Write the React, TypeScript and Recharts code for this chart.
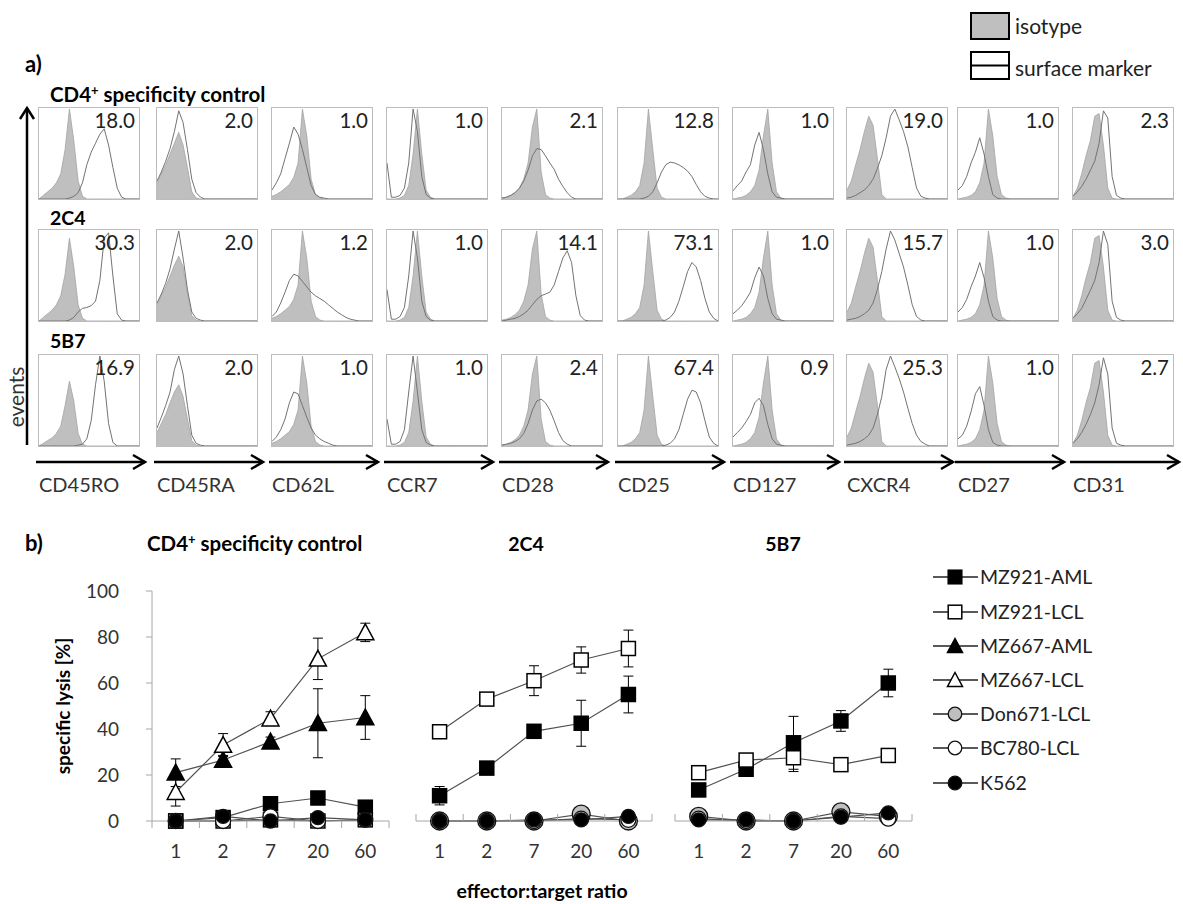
import React from "react";
import { Area, ComposedChart, ErrorBar, Line, LineChart, XAxis, YAxis } from "recharts";

const FONT = 'Lato, "Open Sans", sans-serif';

// ---------- a) surface marker histograms ----------
const MARKERS = ["CD45RO", "CD45RA", "CD62L", "CCR7", "CD28", "CD25", "CD127", "CXCR4", "CD27", "CD31"];
const ROW_TITLES = ["CD4", "2C4", "5B7"];

// surface marker / isotype ratios printed in each box
const MFI_CTRL = [18.0, 2.0, 1.0, 1.0, 2.1, 12.8, 1.0, 19.0, 1.0, 2.3];
const MFI_2C4 = [30.3, 2.0, 1.2, 1.0, 14.1, 73.1, 1.0, 15.7, 1.0, 3.0];
const MFI_5B7 = [16.9, 2.0, 1.0, 1.0, 2.4, 67.4, 0.9, 25.3, 1.0, 2.7];

// histogram heights (% of max) over 24 fluorescence bins, rows: control, 2C4, 5B7
const CD45RO_ISO = [
  [0, 4, 8, 12, 18, 28, 55, 100, 65, 20, 3, 0, 0, 0, 0, 0, 0, 0, 0, 0, 0, 0, 0, 0],
  [0, 4, 8, 12, 18, 28, 52, 92, 60, 18, 3, 0, 0, 0, 0, 0, 0, 0, 0, 0, 0, 0, 0, 0],
  [0, 3, 6, 9, 14, 22, 45, 72, 50, 14, 2, 0, 0, 0, 0, 0, 0, 0, 0, 0, 0, 0, 0, 0],
];
const CD45RO_SURF = [
  [0, 0, 0, 0, 0, 0, 0, 1, 3, 7, 18, 38, 52, 62, 72, 78, 60, 35, 12, 2, 0, 0, 0, 0],
  [0, 0, 0, 0, 0, 0, 0, 1, 4, 10, 14, 15, 17, 22, 45, 92, 98, 50, 8, 1, 0, 0, 0, 0],
  [0, 0, 0, 0, 0, 0, 0, 0, 0, 1, 2, 8, 28, 68, 100, 72, 25, 4, 0, 0, 0, 0, 0, 0],
];
const CD45RA_ISO = [
  [18, 28, 38, 50, 62, 74, 60, 35, 8, 1, 0, 0, 0, 0, 0, 0, 0, 0, 0, 0, 0, 0, 0, 0],
  [18, 28, 38, 50, 62, 72, 60, 30, 6, 1, 0, 0, 0, 0, 0, 0, 0, 0, 0, 0, 0, 0, 0, 0],
  [15, 25, 35, 48, 60, 68, 55, 30, 6, 1, 0, 0, 0, 0, 0, 0, 0, 0, 0, 0, 0, 0, 0, 0],
];
const CD45RA_SURF = [
  [20, 30, 42, 56, 75, 98, 85, 55, 22, 7, 2, 0, 0, 0, 0, 0, 0, 0, 0, 0, 0, 0, 0, 0],
  [20, 30, 42, 58, 80, 100, 70, 35, 10, 3, 1, 0, 0, 0, 0, 0, 0, 0, 0, 0, 0, 0, 0, 0],
  [20, 32, 45, 60, 85, 100, 80, 45, 12, 3, 1, 0, 0, 0, 0, 0, 0, 0, 0, 0, 0, 0, 0, 0],
];
const CD62L_ISO = [3, 5, 8, 12, 16, 24, 40, 100, 70, 22, 5, 1, 0, 0, 0, 0, 0, 0, 0, 0, 0, 0, 0, 0];
const CD62L_SURF = [
  [10, 18, 28, 45, 62, 80, 72, 55, 35, 15, 5, 2, 1, 0, 0, 0, 0, 0, 0, 0, 0, 0, 0, 0],
  [5, 10, 20, 32, 45, 52, 50, 44, 38, 32, 28, 25, 22, 18, 14, 10, 7, 4, 2, 1, 0, 0, 0, 0],
  [5, 10, 18, 30, 48, 60, 58, 45, 32, 20, 12, 8, 5, 3, 1, 0, 0, 0, 0, 0, 0, 0, 0, 0],
];
const CCR7_ISO = [0, 0, 0, 1, 4, 15, 50, 100, 50, 10, 2, 0, 0, 0, 0, 0, 0, 0, 0, 0, 0, 0, 0, 0];
const CCR7_SURF = [
  [40, 2, 2, 4, 12, 40, 100, 75, 25, 5, 1, 0, 0, 0, 0, 0, 0, 0, 0, 0, 0, 0, 0, 0],
  [35, 2, 2, 5, 15, 50, 100, 70, 22, 5, 1, 0, 0, 0, 0, 0, 0, 0, 0, 0, 0, 0, 0, 0],
  [30, 2, 2, 5, 18, 60, 100, 60, 18, 4, 1, 0, 0, 0, 0, 0, 0, 0, 0, 0, 0, 0, 0, 0],
];
const CD28_ISO = [1, 2, 4, 7, 12, 22, 40, 80, 100, 30, 5, 1, 0, 0, 0, 0, 0, 0, 0, 0, 0, 0, 0, 0];
const CD28_SURF = [
  [1, 2, 4, 7, 12, 20, 32, 48, 56, 55, 48, 40, 33, 22, 14, 7, 2, 0, 0, 0, 0, 0, 0, 0],
  [0, 1, 2, 3, 5, 8, 12, 18, 24, 28, 30, 32, 40, 55, 70, 78, 65, 28, 6, 1, 0, 0, 0, 0],
  [1, 2, 3, 5, 8, 14, 25, 40, 50, 52, 48, 40, 28, 15, 6, 2, 0, 0, 0, 0, 0, 0, 0, 0],
];
const CD25_ISO = [0, 0, 2, 4, 8, 15, 40, 100, 55, 12, 2, 0, 0, 0, 0, 0, 0, 0, 0, 0, 0, 0, 0, 0];
const CD25_SURF = [
  [0, 0, 0, 0, 0, 0, 1, 3, 8, 18, 30, 38, 41, 40, 38, 35, 31, 25, 16, 8, 3, 1, 0, 0],
  [0, 0, 0, 0, 0, 0, 0, 0, 0, 0, 0, 1, 4, 10, 22, 38, 55, 65, 60, 45, 25, 10, 3, 0],
  [0, 0, 0, 0, 0, 0, 0, 0, 0, 0, 0, 1, 3, 8, 18, 35, 52, 62, 60, 48, 28, 10, 3, 0],
];
const CD127_ISO = [0, 1, 2, 4, 8, 15, 32, 70, 100, 40, 8, 1, 0, 0, 0, 0, 0, 0, 0, 0, 0, 0, 0, 0];
const CD127_SURF = [
  [9, 15, 20, 30, 38, 60, 74, 55, 28, 8, 2, 1, 0, 0, 0, 0, 0, 0, 0, 0, 0, 0, 0, 0],
  [8, 12, 17, 24, 32, 48, 60, 50, 25, 8, 2, 1, 0, 0, 0, 0, 0, 0, 0, 0, 0, 0, 0, 0],
  [10, 15, 20, 27, 35, 48, 53, 45, 24, 8, 2, 1, 0, 0, 0, 0, 0, 0, 0, 0, 0, 0, 0, 0],
];
const CXCR4_ISO = [10, 20, 38, 55, 75, 92, 82, 45, 5, 0, 0, 0, 0, 0, 0, 0, 0, 0, 0, 0, 0, 0, 0, 0];
const CXCR4_SURF = [
  [1, 2, 4, 7, 10, 15, 22, 34, 48, 68, 92, 100, 88, 75, 58, 35, 12, 3, 1, 0, 0, 0, 0, 0],
  [1, 2, 3, 5, 8, 12, 20, 35, 55, 80, 100, 90, 75, 60, 40, 18, 5, 1, 0, 0, 0, 0, 0, 0],
  [1, 2, 3, 5, 8, 12, 20, 35, 55, 85, 100, 88, 75, 60, 42, 25, 12, 5, 2, 0, 0, 0, 0, 0],
];
const CD27_ISO = [0, 1, 2, 4, 8, 18, 40, 100, 70, 25, 5, 1, 0, 0, 0, 0, 0, 0, 0, 0, 0, 0, 0, 0];
const CD27_SURF = [
  [10, 15, 25, 40, 52, 68, 50, 25, 5, 1, 0, 0, 0, 0, 0, 0, 0, 0, 0, 0, 0, 0, 0, 0],
  [10, 15, 24, 38, 50, 65, 48, 22, 5, 1, 0, 0, 0, 0, 0, 0, 0, 0, 0, 0, 0, 0, 0, 0],
  [8, 12, 22, 38, 58, 66, 45, 18, 4, 1, 0, 0, 0, 0, 0, 0, 0, 0, 0, 0, 0, 0, 0, 0],
];
const CD31_ISO = [3, 12, 28, 48, 65, 92, 95, 60, 12, 1, 0, 0, 0, 0, 0, 0, 0, 0, 0, 0, 0, 0, 0, 0];
const CD31_SURF = [
  [3, 8, 14, 22, 32, 42, 62, 98, 90, 25, 4, 1, 0, 0, 0, 0, 0, 0, 0, 0, 0, 0, 0, 0],
  [3, 8, 14, 24, 34, 45, 65, 100, 85, 22, 4, 1, 0, 0, 0, 0, 0, 0, 0, 0, 0, 0, 0, 0],
  [3, 8, 15, 24, 35, 48, 68, 98, 80, 20, 3, 1, 0, 0, 0, 0, 0, 0, 0, 0, 0, 0, 0, 0],
];

// ---------- b) cytotoxicity ----------
const RATIOS = ["1", "2", "7", "20", "60"];

const CTRL_MZ921_AML = [0, 1.5, 7.5, 10, 6];
const CTRL_MZ921_LCL = [0, 0, 0.5, 0, 0.5];
const CTRL_MZ667_AML = [21, 26.5, 34.5, 42.5, 45];
const CTRL_MZ667_AML_SD = [6, 2, 2, 15, 9.5];
const CTRL_MZ667_LCL = [12.5, 33, 44.5, 70.5, 82];
const CTRL_MZ667_LCL_SD = [6, 5, 3, 9, 4];
const CTRL_BC780 = [0, 0, 2, 0, 0.5];
const CTRL_K562 = [0, 2, 0, 1.5, 0.5];

const C2C4_MZ921_AML = [11, 23, 39, 42.5, 55];
const C2C4_MZ921_AML_SD = [4, 0, 1.5, 10, 8];
const C2C4_MZ921_LCL = [38.8, 53, 61, 70, 75];
const C2C4_MZ921_LCL_SD = [0, 0, 6.5, 5.7, 8];
const C2C4_DON671 = [0, 0, 0, 3, 0];
const C2C4_BC780 = [0, 0, 0, 1, 0.5];
const C2C4_K562 = [0, 0, 0.5, 0.5, 2];

const C5B7_MZ921_AML = [13.5, 22.5, 34, 43.5, 60];
const C5B7_MZ921_AML_SD = [0, 0, 11.5, 4.5, 6];
const C5B7_MZ921_LCL = [21, 26.5, 27.5, 24.5, 28.5];
const C5B7_MZ921_LCL_SD = [0, 0, 6, 0, 0];
const C5B7_DON671 = [2, 0, 0, 4, 2];
const C5B7_BC780 = [1, 0, 0, 2, 1];
const C5B7_K562 = [0.5, 0.5, 0, 1.7, 3.5];

type Shape = "square" | "triangle" | "circle";
const TARGETS: { key: string; name: string; shape: Shape; fill: string; r: number }[] = [
  { key: "mz921aml", name: "MZ921-AML", shape: "square", fill: "#000", r: 7 },
  { key: "mz921lcl", name: "MZ921-LCL", shape: "square", fill: "#fff", r: 7 },
  { key: "mz667aml", name: "MZ667-AML", shape: "triangle", fill: "#000", r: 8.5 },
  { key: "mz667lcl", name: "MZ667-LCL", shape: "triangle", fill: "#fff", r: 8.5 },
  { key: "don671", name: "Don671-LCL", shape: "circle", fill: "#bfbfbf", r: 9 },
  { key: "bc780", name: "BC780-LCL", shape: "circle", fill: "#fff", r: 7.5 },
  { key: "k562", name: "K562", shape: "circle", fill: "#000", r: 7 },
];

type Series = { key: string; values: number[]; sd?: number[] };

const PANEL_CTRL: Series[] = [
  { key: "mz921aml", values: CTRL_MZ921_AML },
  { key: "mz921lcl", values: CTRL_MZ921_LCL },
  { key: "mz667aml", values: CTRL_MZ667_AML, sd: CTRL_MZ667_AML_SD },
  { key: "mz667lcl", values: CTRL_MZ667_LCL, sd: CTRL_MZ667_LCL_SD },
  { key: "bc780", values: CTRL_BC780 },
  { key: "k562", values: CTRL_K562 },
];
const PANEL_2C4: Series[] = [
  { key: "mz921aml", values: C2C4_MZ921_AML, sd: C2C4_MZ921_AML_SD },
  { key: "mz921lcl", values: C2C4_MZ921_LCL, sd: C2C4_MZ921_LCL_SD },
  { key: "don671", values: C2C4_DON671 },
  { key: "bc780", values: C2C4_BC780 },
  { key: "k562", values: C2C4_K562 },
];
const PANEL_5B7: Series[] = [
  { key: "mz921aml", values: C5B7_MZ921_AML, sd: C5B7_MZ921_AML_SD },
  { key: "mz921lcl", values: C5B7_MZ921_LCL, sd: C5B7_MZ921_LCL_SD },
  { key: "don671", values: C5B7_DON671 },
  { key: "bc780", values: C5B7_BC780 },
  { key: "k562", values: C5B7_K562 },
];

// ---------- layout ----------
const BOX_W = 102;
const BOX_H = 93;
const COL_X = [38, 156, 271, 386, 501, 617, 732, 846, 957, 1072];
const ROW_Y = [107, 229, 354];
const AXIS_GREY = "#a6a6a6";
const LINE_GREY = "#505050";
const TICK_POS = [0.5, 1, 1.5, 2, 2.5, 3, 3.5, 4, 4.5, 5, 5.5];

const HISTOGRAMS = [
  { iso: CD45RO_ISO, surf: CD45RO_SURF },
  { iso: CD45RA_ISO, surf: CD45RA_SURF },
  { iso: [CD62L_ISO, CD62L_ISO, CD62L_ISO], surf: CD62L_SURF },
  { iso: [CCR7_ISO, CCR7_ISO, CCR7_ISO], surf: CCR7_SURF },
  { iso: [CD28_ISO, CD28_ISO, CD28_ISO], surf: CD28_SURF },
  { iso: [CD25_ISO, CD25_ISO, CD25_ISO], surf: CD25_SURF },
  { iso: [CD127_ISO, CD127_ISO, CD127_ISO], surf: CD127_SURF },
  { iso: [CXCR4_ISO, CXCR4_ISO, CXCR4_ISO], surf: CXCR4_SURF },
  { iso: [CD27_ISO, CD27_ISO, CD27_ISO], surf: CD27_SURF },
  { iso: [CD31_ISO, CD31_ISO, CD31_ISO], surf: CD31_SURF },
];

function Histogram({ x, y, iso, surf }: { x: number; y: number; iso: number[]; surf: number[] }) {
  const data = iso.map((v, i) => ({ bin: i, iso: v, surf: surf[i] }));
  return (
    <div
      style={{
        position: "absolute",
        left: x,
        top: y,
        width: BOX_W,
        height: BOX_H,
        border: "1px solid #bcbcbc",
        boxSizing: "border-box",
      }}
    >
      <ComposedChart width={BOX_W - 2} height={BOX_H - 2} data={data} margin={{ top: 1, right: 0, bottom: 0, left: 0 }}>
        <XAxis dataKey="bin" type="number" domain={[0, iso.length - 1]} hide />
        <YAxis type="number" domain={[0, 100]} hide />
        <Area
          type="linear"
          dataKey="iso"
          stroke="#a3a3a3"
          strokeWidth={0.8}
          fill="#bfbfbf"
          fillOpacity={1}
          isAnimationActive={false}
        />
        <Line
          type="linear"
          dataKey="surf"
          stroke="#737373"
          strokeWidth={1}
          dot={false}
          activeDot={false}
          isAnimationActive={false}
        />
      </ComposedChart>
    </div>
  );
}

function Marker({ cx, cy, shape, fill, r }: { cx: number; cy: number; shape: Shape; fill: string; r: number }) {
  if (cx == null || cy == null) return null;
  if (shape === "square") {
    return <rect x={cx - r} y={cy - r} width={2 * r} height={2 * r} fill={fill} stroke="#000" strokeWidth={1.5} />;
  }
  if (shape === "triangle") {
    const pts = `${cx},${cy - r} ${cx + r},${cy + r * 0.85} ${cx - r},${cy + r * 0.85}`;
    return <polygon points={pts} fill={fill} stroke="#000" strokeWidth={1.5} strokeLinejoin="miter" />;
  }
  return <circle cx={cx} cy={cy} r={r} fill={fill} stroke="#111" strokeWidth={1.3} />;
}

function RatioTick(props: any) {
  const { x, y, payload, down } = props;
  const v = payload.value as number;
  if (Number.isInteger(v)) {
    return (
      <text x={x} y={y + 37} textAnchor="middle" fontSize={19} fill="#333" fontFamily={FONT}>
        {RATIOS[v - 1]}
      </text>
    );
  }
  return <line x1={x} x2={x} y1={y} y2={down ? y + 7 : y - 7} stroke={AXIS_GREY} />;
}

function LysisChart({
  left,
  width,
  marginLeft,
  marginRight,
  series,
  withYAxis,
}: {
  left: number;
  width: number;
  marginLeft: number;
  marginRight: number;
  series: Series[];
  withYAxis: boolean;
}) {
  const data = RATIOS.map((_, i) => {
    const row: Record<string, number> = { x: i + 1 };
    series.forEach((s) => {
      row[s.key] = s.values[i];
      if (s.sd) row[`${s.key}Sd`] = s.sd[i];
    });
    return row;
  });
  return (
    <div style={{ position: "absolute", left, top: 570 }}>
      <LineChart
        width={width}
        height={310}
        data={data}
        margin={{ top: 21, right: marginRight, bottom: 0, left: marginLeft }}
      >
        <XAxis
          dataKey="x"
          type="number"
          domain={[0.5, 5.5]}
          ticks={TICK_POS}
          interval={0}
          height={59}
          tickLine={false}
          tickSize={0}
          tickMargin={0}
          axisLine={{ stroke: AXIS_GREY }}
          tick={(p: any) => <RatioTick {...p} down={withYAxis} />}
        />
        <YAxis
          type="number"
          domain={[0, 100]}
          ticks={[0, 20, 40, 60, 80, 100]}
          interval={0}
          hide={!withYAxis}
          width={92}
          tickSize={6}
          tickMargin={27}
          axisLine={{ stroke: AXIS_GREY }}
          tickLine={{ stroke: AXIS_GREY }}
          tick={{ fill: "#333", fontSize: 19, fontFamily: FONT }}
        />
        {series.map((s) => {
          const st = TARGETS.find((t) => t.key === s.key)!;
          return (
            <Line
              key={s.key}
              dataKey={s.key}
              type="linear"
              stroke={LINE_GREY}
              strokeWidth={1.2}
              activeDot={false}
              isAnimationActive={false}
              dot={(p: any) => (
                <Marker key={`${s.key}-${p.index}`} cx={p.cx} cy={p.cy} shape={st.shape} fill={st.fill} r={st.r} />
              )}
            >
              {s.sd && <ErrorBar dataKey={`${s.key}Sd`} width={5} stroke="#000" strokeWidth={1} direction="y" />}
            </Line>
          );
        })}
      </LineChart>
    </div>
  );
}

function CD4Title({ x, y }: { x: number; y: number }) {
  return (
    <text x={x} y={y} fontSize={20.5} fontWeight={700} fill="#000">
      CD4
      <tspan fontSize={13} dy={-7.5}>
        +
      </tspan>
      <tspan dy={7.5}> specificity control</tspan>
    </text>
  );
}

function Overlay() {
  const mfi = [MFI_CTRL, MFI_2C4, MFI_5B7];
  const legendY = [577, 612, 646, 680, 714, 748, 783];
  return (
    <svg
      width={1183}
      height={904}
      style={{ position: "absolute", left: 0, top: 0, pointerEvents: "none" }}
      fontFamily={FONT}
    >
      {/* panel a */}
      <text x={25} y={72} fontSize={22} fontWeight={700}>
        a)
      </text>
      <CD4Title x={50} y={102} />
      <text x={50} y={225} fontSize={19.5} fontWeight={700}>
        {ROW_TITLES[1]}
      </text>
      <text x={50} y={348} fontSize={19.5} fontWeight={700}>
        {ROW_TITLES[2]}
      </text>

      {ROW_Y.map((ry, r) =>
        COL_X.map((cx, c) => (
          <text key={`m${r}-${c}`} x={cx + BOX_W - 5} y={ry + 21} fontSize={20.5} fill="#222" textAnchor="end">
            {mfi[r][c].toFixed(1)}
          </text>
        ))
      )}

      {COL_X.map((cx, c) => (
        <g key={`ax${c}`}>
          <line x1={cx - 2} x2={cx + 107} y1={462} y2={462} stroke="#000" strokeWidth={2.5} />
          <polyline
            points={`${cx + 95},${455} ${cx + 107},${462} ${cx + 95},${469}`}
            fill="none"
            stroke="#000"
            strokeWidth={2.5}
          />
          <text x={cx + 1} y={492} fontSize={20} fill="#333">
            {MARKERS[c]}
          </text>
        </g>
      ))}

      <line x1={27} x2={27} y1={445} y2={108} stroke="#000" strokeWidth={2.5} />
      <polyline points="20,119 27,108 34,119" fill="none" stroke="#000" strokeWidth={2.5} />
      <text transform="translate(17,397) rotate(-90)" textAnchor="middle" dy="0.35em" fontSize={21} fill="#333">
        events
      </text>

      <rect x={971} y={13} width={38} height={26} fill="#bfbfbf" stroke="#000" strokeWidth={2} />
      <text x={1015} y={34} fontSize={21} fill="#222">
        isotype
      </text>
      <rect x={971} y={52} width={38} height={27} fill="#fff" stroke="#000" strokeWidth={2} />
      <line x1={971} x2={1009} y1={65.5} y2={65.5} stroke="#000" strokeWidth={2} />
      <text x={1015} y={76} fontSize={21} fill="#222">
        surface marker
      </text>

      {/* panel b */}
      <text x={25} y={551} fontSize={22} fontWeight={700}>
        b)
      </text>
      <CD4Title x={147} y={551} />
      <text x={526} y={551} fontSize={19.5} fontWeight={700} textAnchor="middle">
        2C4
      </text>
      <text x={783} y={551} fontSize={19.5} fontWeight={700} textAnchor="middle">
        5B7
      </text>
      <text
        transform="translate(63,706) rotate(-90)"
        textAnchor="middle"
        dy="0.35em"
        fontSize={19}
        fontWeight={700}
      >
        specific lysis [%]
      </text>
      <text x={542} y={898} fontSize={19.5} fontWeight={700} textAnchor="middle">
        effector:target ratio
      </text>

      {TARGETS.map((t, i) => (
        <g key={t.key}>
          <line x1={933} x2={978} y1={legendY[i]} y2={legendY[i]} stroke="#222" strokeWidth={1.3} />
          <Marker cx={955} cy={legendY[i]} shape={t.shape} fill={t.fill} r={t.shape === "triangle" ? 7.5 : 6.8} />
          <text x={980} y={legendY[i] + 7} fontSize={19.5} fill="#222">
            {t.name}
          </text>
        </g>
      ))}
    </svg>
  );
}

export default function App() {
  return (
    <div
      style={{
        position: "absolute",
        left: 0,
        top: 0,
        width: 1183,
        height: 904,
        background: "#fff",
        fontFamily: FONT,
        overflow: "hidden",
      }}
    >
      {ROW_Y.map((ry, r) =>
        COL_X.map((cx, c) => (
          <Histogram key={`h${r}-${c}`} x={cx} y={ry} iso={HISTOGRAMS[c].iso[r]} surf={HISTOGRAMS[c].surf[r]} />
        ))
      )}

      <LysisChart left={60} width={350} marginLeft={0} marginRight={21} series={PANEL_CTRL} withYAxis />
      <LysisChart left={400} width={270} marginLeft={16} marginRight={18} series={PANEL_2C4} withYAxis={false} />
      <LysisChart left={658} width={272} marginLeft={17} marginRight={18} series={PANEL_5B7} withYAxis={false} />

      <Overlay />
    </div>
  );
}
